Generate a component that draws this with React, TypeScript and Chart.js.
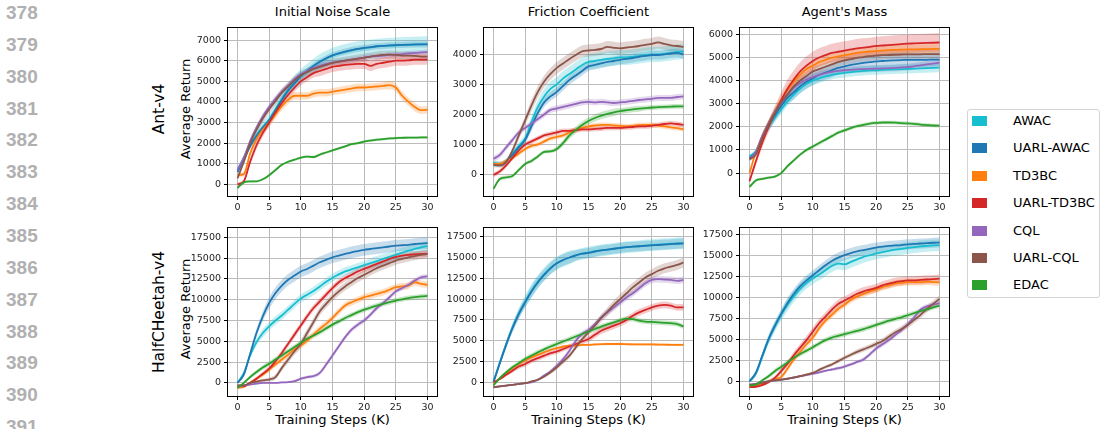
import React, { useEffect, useRef } from "react";
import { Chart, registerables } from "chart.js";
Chart.register(...registerables);

// ---------- data ----------
const steps = [0,1,2,3,4,5,6,7,8,9,10,11,12,13,14,15,16,17,18,19,20,21,22,23,24,25,26,27,28,29,30];
const seriesNames = ["AWAC","UARL-AWAC","TD3BC","UARL-TD3BC","CQL","UARL-CQL","EDAC"];
const seriesColors = ["#17becf","#1f77b4","#ff7f0e","#d62728","#9467bd","#8c564b","#2ca02c"];
const columnTitles = ["Initial Noise Scale","Friction Coefficient","Agent's Mass"];
const rowLabels = ["Ant-v4","HalfCHeetah-v4"];
const yAxisTitle = "Average Return";
const xAxisTitle = "Training Steps (K)";
const lineNumbers = [378,379,380,381,382,383,384,385,386,387,388,389,390,391];
const xTicks = [0,5,10,15,20,25,30];
const antNoiseTicks = [0,1000,2000,3000,4000,5000,6000,7000];
const antFrictionTicks = [0,1000,2000,3000,4000];
const antMassTicks = [0,1000,2000,3000,4000,5000,6000];
const cheetahTicks = [0,2500,5000,7500,10000,12500,15000,17500];

// Ant-v4 / Initial Noise Scale
const a1AWAC = [700,1300,1900,2400,2800,3150,3650,4150,4600,4950,5250,5500,5750,5950,6100,6250,6350,6430,6500,6560,6610,6650,6690,6710,6730,6750,6760,6770,6780,6790,6800];
const a1UAWAC = [600,1200,1850,2350,2750,3100,3600,4100,4550,4900,5250,5500,5750,5950,6120,6260,6360,6440,6510,6570,6620,6660,6700,6720,6740,6760,6770,6780,6790,6790,6790];
const a1TD3 = [450,500,1500,2200,2650,3000,3400,3800,4100,4300,4300,4300,4400,4450,4450,4500,4550,4600,4650,4700,4700,4720,4750,4780,4820,4700,4300,4000,3750,3600,3620];
const a1UTD3 = [0,150,1100,1900,2500,3000,3500,3950,4350,4700,5000,5200,5400,5500,5600,5700,5750,5800,5820,5850,5850,5750,5850,5900,5950,6000,6000,6020,6050,6050,6050];
const a1CQL = [700,1300,2100,2750,3300,3750,4150,4500,4800,5100,5350,5500,5650,5750,5850,5900,5950,6000,6050,6100,6150,6200,6220,6250,6280,6300,6320,6350,6380,6400,6420];
const a1UCQL = [300,1100,2000,2650,3200,3650,4050,4450,4750,5050,5300,5450,5600,5700,5800,5900,5950,6000,6050,6100,6150,6200,6250,6280,6300,6280,6250,6250,6230,6200,6200];
const a1EDAC = [-170,100,150,150,250,450,700,950,1100,1200,1300,1350,1330,1450,1550,1650,1750,1850,1950,2000,2080,2130,2170,2200,2230,2250,2260,2270,2270,2280,2280];
const a1AWACSd = [100,120,150,200,250,250,300,300,300,350,350,350,350,380,380,380,380,380,380,380,380,380,380,380,380,380,380,380,380,380,380];
const a1UAWACSd = [100,100,120,150,150,150,150,150,150,150,150,150,150,150,150,150,150,150,150,150,150,150,150,150,150,150,150,150,150,150,150];
const a1TD3Sd = [100,100,150,200,200,200,200,200,200,180,180,180,180,180,180,180,180,180,180,180,180,180,180,180,200,200,200,200,200,180,180];
const a1UTD3Sd = [100,100,150,200,200,200,200,200,200,200,200,200,220,250,250,250,250,250,250,250,250,250,250,250,250,250,250,250,250,250,250];
const a1CQLSd = [100,100,150,150,150,150,150,150,150,150,120,120,120,120,120,120,120,120,120,120,120,120,120,120,120,120,120,120,120,120,120];
const a1UCQLSd = [100,120,150,200,200,200,200,200,200,200,200,200,200,200,200,200,200,200,200,200,200,200,200,200,200,200,200,200,200,200,200];
const a1EDACSd = [50,50,50,50,50,60,60,60,60,60,60,60,60,60,60,60,60,60,60,60,60,60,60,60,60,60,60,60,60,60,60];

// Ant-v4 / Friction Coefficient
const a2AWAC = [380,350,450,700,950,1200,1750,2250,2600,2850,3000,3200,3350,3500,3650,3750,3780,3820,3850,3870,3900,3900,3920,3950,3980,4000,4000,4020,4050,4080,4100];
const a2UAWAC = [350,330,420,650,900,1150,1600,2050,2400,2600,2750,2950,3150,3300,3450,3600,3650,3700,3750,3780,3820,3850,3880,3920,3950,3980,3980,4000,4030,4050,4000];
const a2TD3 = [350,350,450,550,700,850,950,1000,1100,1200,1250,1300,1400,1480,1550,1600,1630,1650,1650,1630,1620,1600,1620,1640,1650,1650,1630,1600,1570,1540,1500];
const a2UTD3 = [-20,100,300,550,800,1000,1100,1200,1300,1350,1400,1450,1450,1480,1500,1500,1520,1530,1550,1550,1550,1570,1580,1600,1600,1620,1650,1680,1700,1680,1650];
const a2CQL = [520,650,900,1150,1400,1550,1700,1850,2000,2150,2200,2250,2300,2350,2400,2420,2400,2420,2400,2380,2400,2420,2450,2480,2500,2520,2550,2550,2550,2580,2600];
const a2UCQL = [320,300,420,800,1300,1800,2300,2750,3100,3350,3550,3700,3850,3980,4100,4130,4150,4180,4250,4220,4200,4230,4250,4280,4320,4350,4400,4350,4300,4280,4250];
const a2EDAC = [-480,-150,-100,-50,150,350,450,600,750,770,850,1050,1300,1480,1650,1780,1880,1960,2020,2070,2110,2140,2170,2190,2210,2230,2240,2250,2260,2270,2270];
const a2AWACSd = [80,80,80,100,120,150,200,220,250,250,250,250,250,250,250,250,250,250,250,250,250,250,250,250,250,250,250,250,250,250,250];
const a2UAWACSd = [80,80,80,100,100,120,150,150,150,150,150,150,150,150,150,150,150,150,150,150,150,150,150,150,150,150,150,150,150,150,150];
const a2TD3Sd = [80,80,80,80,80,80,80,80,80,80,80,80,80,80,80,80,80,80,80,80,80,80,80,80,80,80,80,80,80,80,80];
const a2UTD3Sd = [80,80,80,80,80,80,80,80,80,80,80,80,80,80,80,80,80,80,80,80,80,80,80,80,80,80,80,80,80,80,80];
const a2CQLSd = [100,100,100,100,100,100,100,100,100,100,100,100,100,100,100,100,100,100,100,100,100,100,100,100,100,100,100,100,100,100,100];
const a2UCQLSd = [80,80,80,100,150,150,200,200,200,200,200,200,200,200,200,200,200,200,200,200,200,200,200,200,200,200,200,200,200,200,200];
const a2EDACSd = [60,60,60,60,60,60,60,60,60,60,80,100,120,120,120,120,120,120,120,120,100,100,100,100,80,80,80,80,80,80,80];

// Ant-v4 / Agent's Mass
const a3AWAC = [720,950,1500,2000,2400,2750,3100,3400,3650,3850,4000,4100,4180,4250,4300,4340,4370,4400,4420,4440,4450,4470,4480,4490,4500,4510,4520,4530,4540,4550,4560];
const a3UAWAC = [650,900,1500,2050,2500,2900,3250,3500,3750,3950,4100,4250,4350,4450,4550,4620,4680,4730,4770,4800,4830,4850,4870,4880,4890,4900,4900,4900,4900,4910,4910];
const a3TD3 = [0,900,1600,2150,2650,3150,3600,3950,4250,4500,4650,4800,4900,4980,5050,5100,5150,5200,5230,5260,5280,5300,5320,5330,5340,5350,5350,5360,5360,5370,5370];
const a3UTD3 = [-350,500,1300,2000,2600,3150,3650,4050,4400,4650,4850,5000,5100,5200,5250,5300,5350,5400,5430,5460,5500,5520,5540,5560,5580,5600,5610,5620,5630,5640,5650];
const a3CQL = [600,900,1600,2150,2650,3050,3400,3700,3900,4050,4150,4250,4320,4380,4420,4450,4470,4490,4500,4510,4520,4530,4540,4550,4570,4590,4620,4660,4700,4740,4780];
const a3UCQL = [600,800,1500,2100,2600,3050,3400,3750,4000,4200,4400,4500,4600,4700,4800,4880,4930,4980,5020,5060,5080,5100,5110,5120,5130,5140,5140,5140,5150,5150,5150];
const a3EDAC = [-600,-320,-250,-200,-150,0,300,550,800,1000,1150,1300,1450,1600,1750,1850,1950,2030,2090,2140,2170,2190,2190,2180,2160,2150,2130,2100,2080,2060,2050];
const a3AWACSd = [80,100,150,200,200,200,200,200,200,200,200,200,200,200,200,200,200,200,200,200,200,200,200,200,200,200,200,200,200,200,200];
const a3UAWACSd = [80,100,150,200,250,250,250,300,300,300,300,300,300,300,300,300,300,300,300,300,300,300,300,300,300,300,300,300,300,300,300];
const a3TD3Sd = [80,100,150,150,200,200,200,200,200,200,200,200,200,200,200,200,200,200,200,200,200,200,200,200,200,200,200,200,200,200,200];
const a3UTD3Sd = [80,150,200,250,300,350,400,400,400,400,400,400,400,400,400,400,400,400,400,400,400,400,400,400,400,400,400,400,400,400,400];
const a3CQLSd = [80,100,120,150,150,150,150,150,150,150,150,150,150,150,150,150,150,150,150,150,150,150,150,150,150,150,150,150,150,150,150];
const a3UCQLSd = [80,100,150,200,200,200,200,200,200,200,200,200,200,200,200,200,200,200,200,200,200,200,200,200,200,200,200,200,200,200,200];
const a3EDACSd = [60,60,60,60,60,60,70,70,70,80,80,80,80,80,80,80,80,80,80,80,80,80,80,80,80,80,80,80,80,80,80];

// HalfCheetah-v4 / Initial Noise Scale
const h1AWAC = [0,1200,3300,4900,6000,6800,7500,8100,8800,9500,10150,10600,11050,11600,12150,12650,13050,13400,13650,13900,14150,14400,14650,14900,15150,15400,15650,15900,16100,16300,16450];
const h1UAWAC = [0,1000,3500,6000,8000,9600,10800,11700,12400,12900,13400,13700,14100,14500,14800,15100,15300,15500,15700,15850,16000,16100,16200,16300,16400,16500,16550,16600,16700,16750,16800];
const h1TD3 = [-600,-500,0,500,1000,1600,2200,2800,3400,4000,4500,5100,5800,6500,7100,7800,8600,9300,9700,10000,10300,10500,10700,10900,11200,11500,11600,11700,12100,11900,11800];
const h1UTD3 = [-300,-400,0,500,1100,1700,2600,3600,4700,5800,6900,8000,9000,9800,10600,11400,12100,12600,13000,13400,13700,14000,14300,14600,14900,15150,15300,15400,15450,15500,15550];
const h1CQL = [-500,-300,-200,-100,0,0,0,50,100,200,500,700,800,1200,2200,3300,4400,5500,6400,7000,7500,8200,9000,9600,10300,11000,11400,11800,12300,12700,12800];
const h1UCQL = [-300,-300,0,150,300,400,700,1800,2800,3800,4700,6000,7300,8600,9500,10300,11000,11600,12100,12600,13000,13400,13800,14100,14400,14700,14900,15100,15250,15400,15500];
const h1EDAC = [-600,0,700,1300,1850,2300,2800,3300,3800,4300,4800,5300,5700,6100,6550,7000,7400,7800,8150,8500,8800,9050,9300,9500,9700,9900,10050,10200,10300,10400,10450];
const h1AWACSd = [100,200,300,400,500,500,500,500,500,500,500,500,500,500,500,500,500,500,500,500,500,600,600,600,600,600,600,600,600,600,600];
const h1UAWACSd = [100,200,400,500,600,700,700,700,700,700,700,700,700,700,700,700,700,700,700,700,700,700,700,700,700,700,700,700,700,700,700];
const h1TD3Sd = [100,100,150,200,250,300,300,350,350,400,400,400,400,400,400,400,400,400,400,400,400,400,400,400,400,400,400,400,400,400,400];
const h1UTD3Sd = [100,100,150,200,250,300,300,350,350,400,400,400,400,400,400,400,400,400,400,400,400,400,400,400,400,400,400,400,400,400,400];
const h1CQLSd = [100,100,100,100,100,100,100,100,100,150,200,200,200,250,300,300,300,300,300,300,300,300,300,300,300,300,300,300,300,300,300];
const h1UCQLSd = [100,100,100,150,200,250,300,350,400,450,500,500,500,500,500,500,500,500,500,500,500,500,500,500,500,500,500,500,500,500,500];
const h1EDACSd = [100,150,200,250,300,300,300,300,300,300,300,300,300,300,300,300,300,300,300,300,300,300,300,300,300,300,300,300,300,300,300];

// HalfCheetah-v4 / Friction Coefficient
const h2AWAC = [100,2400,4600,6600,8300,9700,11000,12100,13000,13750,14300,14700,15000,15250,15450,15600,15750,15850,15950,16050,16150,16250,16300,16350,16450,16500,16550,16600,16650,16700,16700];
const h2UAWAC = [0,2300,4500,6500,8200,9600,10900,12000,12900,13700,14300,14700,15000,15250,15450,15550,15700,15850,15950,16050,16150,16250,16300,16350,16400,16450,16500,16550,16600,16650,16700];
const h2TD3 = [-200,500,1100,1700,2200,2600,3000,3300,3600,3900,4100,4300,4400,4400,4500,4500,4550,4580,4600,4600,4600,4580,4560,4550,4550,4550,4530,4520,4500,4500,4500];
const h2UTD3 = [0,400,900,1400,1900,2200,2600,2900,3200,3500,3700,4000,4300,4600,4900,5200,5700,6200,6500,6800,7100,7500,8000,8400,8700,9000,9200,9300,9200,9000,9000];
const h2CQL = [-600,-500,-400,-300,-200,-100,0,300,800,1300,2000,2800,3800,5000,5800,6300,7000,7800,8400,9000,9600,10200,10700,11300,11900,12300,12400,12350,12300,12200,12300];
const h2UCQL = [-600,-500,-400,-300,-200,-100,100,300,700,1200,1800,2500,3200,4200,5200,6000,6800,7700,8500,9300,10000,10700,11400,12000,12600,13000,13400,13700,13900,14100,14400];
const h2EDAC = [-400,500,1200,1800,2300,2800,3200,3600,3950,4300,4600,4900,5200,5500,5800,6100,6400,6700,6950,7200,7450,7650,7600,7400,7300,7250,7200,7150,7100,7000,6700];
const h2AWACSd = [200,300,400,500,600,700,800,800,800,800,800,800,800,700,700,700,700,700,700,700,700,700,700,700,700,700,700,700,700,700,700];
const h2UAWACSd = [200,300,400,500,600,600,700,700,700,700,700,700,700,600,600,600,600,600,600,600,600,600,600,600,600,600,600,600,600,600,600];
const h2TD3Sd = [100,100,150,150,150,150,150,150,150,150,150,150,150,150,150,150,150,150,150,150,150,150,150,150,150,150,150,150,150,150,150];
const h2UTD3Sd = [100,150,200,250,300,300,300,300,300,300,300,300,300,300,300,350,400,400,400,400,400,400,400,400,400,400,400,400,400,400,400];
const h2CQLSd = [100,100,100,100,100,100,100,150,200,250,300,300,300,300,300,300,300,350,400,400,400,400,400,400,400,400,400,400,400,400,400];
const h2UCQLSd = [100,100,100,100,100,100,100,150,200,250,300,300,300,300,300,350,400,450,500,550,600,600,600,600,600,600,600,600,600,600,600];
const h2EDACSd = [100,150,200,250,300,300,300,300,300,300,300,300,300,300,300,300,300,300,300,300,300,300,300,300,300,300,300,300,300,300,300];

// HalfCheetah-v4 / Agent's Mass
const h3AWAC = [0,900,2900,4900,6500,7900,9100,10100,11000,11700,12250,12700,13200,13700,14000,13900,14200,14500,14800,15000,15200,15350,15500,15650,15750,15850,15950,16050,16100,16150,16200];
const h3UAWAC = [0,1000,3000,5000,6600,8000,9300,10400,11300,12000,12600,13200,13800,14300,14700,15000,15250,15450,15600,15750,15900,16000,16100,16150,16200,16280,16330,16380,16420,16470,16500];
const h3TD3 = [-600,-500,-300,0,250,500,1500,2600,3500,4400,5200,6300,7200,7900,8600,9100,9700,10100,10400,10700,10900,11200,11400,11600,11700,11800,11800,11800,11850,11800,11750];
const h3UTD3 = [-700,-650,-450,-100,400,1200,2100,3100,4000,4900,5900,6900,7700,8500,9200,9600,10000,10400,10700,10900,11100,11400,11600,11800,11900,12000,12000,12050,12100,12150,12200];
const h3CQL = [-400,-300,-100,0,100,200,300,450,600,750,900,1050,1250,1400,1550,1750,2000,2300,2600,3200,3900,4400,4900,5500,6100,6800,7600,8500,8900,9100,9300];
const h3UCQL = [-400,-350,-200,0,100,200,300,450,600,800,1000,1350,1700,2000,2400,2800,3150,3500,3800,4100,4450,4800,5300,5800,6200,6700,7300,7900,8600,9200,9800];
const h3EDAC = [-500,-400,100,600,1200,1700,2250,2800,3250,3650,4050,4500,4900,5200,5400,5600,5800,6000,6200,6450,6700,6950,7200,7400,7600,7850,8100,8350,8550,8800,9000];
const h3AWACSd = [200,300,400,500,600,700,700,700,700,700,700,700,700,700,700,700,700,700,700,700,700,700,700,700,700,700,700,700,700,700,700];
const h3UAWACSd = [200,300,400,500,500,500,600,600,600,600,600,600,600,600,600,600,600,600,600,600,600,600,600,600,600,600,600,600,600,600,600];
const h3TD3Sd = [100,100,150,200,250,300,300,350,350,400,400,400,400,400,400,400,400,400,400,400,400,400,400,400,400,400,400,400,400,400,400];
const h3UTD3Sd = [100,100,150,200,250,300,350,400,450,500,500,500,500,500,500,500,500,500,500,500,500,500,500,500,500,500,500,500,500,500,500];
const h3CQLSd = [100,100,100,100,100,100,100,100,100,150,150,150,150,150,200,200,200,200,250,250,300,300,300,300,300,300,300,300,300,300,300];
const h3UCQLSd = [100,100,100,100,100,100,100,100,150,150,150,200,200,200,250,250,250,300,300,300,300,350,350,350,400,400,400,400,400,400,400];
const h3EDACSd = [100,150,200,250,300,300,300,300,300,300,300,300,300,300,300,300,300,300,300,300,300,300,300,300,300,300,300,300,300,300,300];

// ---------- panel definitions (built from the arrays above) ----------
const panels = [
  { means: [a1AWAC,a1UAWAC,a1TD3,a1UTD3,a1CQL,a1UCQL,a1EDAC], sds: [a1AWACSd,a1UAWACSd,a1TD3Sd,a1UTD3Sd,a1CQLSd,a1UCQLSd,a1EDACSd], yTicks: antNoiseTicks, yMin: -560, yMax: 7600 },
  { means: [a2AWAC,a2UAWAC,a2TD3,a2UTD3,a2CQL,a2UCQL,a2EDAC], sds: [a2AWACSd,a2UAWACSd,a2TD3Sd,a2UTD3Sd,a2CQLSd,a2UCQLSd,a2EDACSd], yTicks: antFrictionTicks, yMin: -720, yMax: 4890 },
  { means: [a3AWAC,a3UAWAC,a3TD3,a3UTD3,a3CQL,a3UCQL,a3EDAC], sds: [a3AWACSd,a3UAWACSd,a3TD3Sd,a3UTD3Sd,a3CQLSd,a3UCQLSd,a3EDACSd], yTicks: antMassTicks, yMin: -990, yMax: 6290 },
  { means: [h1AWAC,h1UAWAC,h1TD3,h1UTD3,h1CQL,h1UCQL,h1EDAC], sds: [h1AWACSd,h1UAWACSd,h1TD3Sd,h1UTD3Sd,h1CQLSd,h1UCQLSd,h1EDACSd], yTicks: cheetahTicks, yMin: -1580, yMax: 18660 },
  { means: [h2AWAC,h2UAWAC,h2TD3,h2UTD3,h2CQL,h2UCQL,h2EDAC], sds: [h2AWACSd,h2UAWACSd,h2TD3Sd,h2UTD3Sd,h2CQLSd,h2UCQLSd,h2EDACSd], yTicks: cheetahTicks, yMin: -1650, yMax: 18580 },
  { means: [h3AWAC,h3UAWAC,h3TD3,h3UTD3,h3CQL,h3UCQL,h3EDAC], sds: [h3AWACSd,h3UAWACSd,h3TD3Sd,h3UTD3Sd,h3CQLSd,h3UCQLSd,h3EDACSd], yTicks: cheetahTicks, yMin: -1750, yMax: 18260 },
];

// ---------- layout ----------
const FONT = "'DejaVu Sans', 'Liberation Sans', sans-serif";
const COL_LEFT = [228, 484, 740];
const ROW_TOP = [22, 222];
const PLOT_W = 209;
const PLOT_H = 174;
const Y_AXIS_W = 46;
const X_AXIS_H = 24;
const PAD = 3;

function rgba(hex: string, a: number) {
  const n = parseInt(hex.slice(1), 16);
  return `rgba(${(n >> 16) & 255},${(n >> 8) & 255},${n & 255},${a})`;
}

const framePlugin = {
  id: "frame",
  afterDraw(chart: any) {
    const { ctx, chartArea } = chart;
    const { left, top, right, bottom } = chartArea;
    ctx.save();
    ctx.strokeStyle = "#000";
    ctx.lineWidth = 1;
    ctx.strokeRect(Math.round(left) - 0.5, Math.round(top) - 0.5, Math.round(right - left) + 1, Math.round(bottom - top) + 1);
    ctx.restore();
  },
};

function Panel({ cfg, left, top }: any) {
  const ref = useRef<HTMLCanvasElement>(null);
  const width = PLOT_W + Y_AXIS_W + PAD;
  const height = PLOT_H + X_AXIS_H + PAD;
  useEffect(() => {
    const datasets: any[] = [];
    cfg.means.forEach((m: number[], i: number) => {
      const sd = cfg.sds[i];
      datasets.push({
        data: m.map((y, k) => ({ x: steps[k], y: y + (sd[k] ?? 0) })),
        borderWidth: 0, pointRadius: 0, fill: false, order: 50,
        cubicInterpolationMode: "monotone",
      });
      datasets.push({
        data: m.map((y, k) => ({ x: steps[k], y: y - (sd[k] ?? 0) })),
        borderWidth: 0, pointRadius: 0, fill: "-1", order: 50,
        backgroundColor: rgba(seriesColors[i], 0.25),
        cubicInterpolationMode: "monotone",
      });
    });
    cfg.means.forEach((m: number[], i: number) => {
      datasets.push({
        label: seriesNames[i],
        data: m.map((y, k) => ({ x: steps[k], y })),
        borderColor: seriesColors[i],
        borderWidth: 1.8,
        pointRadius: 0,
        fill: false,
        order: 7 - i,
        cubicInterpolationMode: "monotone",
      });
    });
    const tickFont = { family: FONT, size: 9.5 };
    const grid = { color: "#bcbcbc", lineWidth: 1, drawTicks: true, tickLength: 4, tickColor: "#000" };
    const chart = new Chart(ref.current as HTMLCanvasElement, {
      type: "line",
      data: { datasets },
      options: {
        animation: false,
        responsive: false,
        maintainAspectRatio: false,
        events: [],
        layout: { padding: { top: PAD, right: PAD, left: 0, bottom: 0 } },
        plugins: {
          legend: { display: false },
          tooltip: { enabled: false },
          filler: { drawTime: "beforeDatasetsDraw" },
        },
        scales: {
          x: {
            type: "linear", min: -1.5, max: 31.5,
            afterBuildTicks: (ax: any) => { ax.ticks = xTicks.map((v) => ({ value: v })); },
            afterFit: (s: any) => { s.height = X_AXIS_H; },
            grid, border: { display: false },
            ticks: { autoSkip: false, maxRotation: 0, padding: 2, font: tickFont, color: "#222", callback: (v: any) => String(v) },
          },
          y: {
            type: "linear", min: cfg.yMin, max: cfg.yMax,
            afterBuildTicks: (ax: any) => { ax.ticks = cfg.yTicks.map((v: number) => ({ value: v })); },
            afterFit: (s: any) => { s.width = Y_AXIS_W; },
            grid, border: { display: false },
            ticks: { autoSkip: false, padding: 3, font: tickFont, color: "#222", callback: (v: any) => String(v) },
          },
        },
      } as any,
      plugins: [framePlugin],
    });
    return () => chart.destroy();
  }, []);
  return (
    <canvas
      ref={ref}
      width={width}
      height={height}
      style={{ position: "absolute", left: left - Y_AXIS_W, top: top - PAD, width, height }}
    />
  );
}

function Rotated({ text, cx, cy, size }: any) {
  return (
    <div style={{
      position: "absolute", left: cx, top: cy, transform: "translate(-50%,-50%) rotate(-90deg)",
      whiteSpace: "nowrap", fontFamily: FONT, fontSize: size, lineHeight: `${size + 2}px`, color: "#000",
    }}>{text}</div>
  );
}

export default function App() {
  return (
    <div style={{ position: "absolute", left: 0, top: 0, width: 1100, height: 429, background: "#fff", overflow: "hidden" }}>
      {lineNumbers.map((n, i) => (
        <div key={n} style={{
          position: "absolute", left: 6, top: 13 + i * 31.85 - 11, height: 22, lineHeight: "22px",
          fontFamily: "'Liberation Sans', Arial, sans-serif", fontWeight: "bold", fontSize: 19, color: "#b0b0b0",
        }}>{n}</div>
      ))}
      {rowLabels.map((t, r) => (
        <React.Fragment key={t}>
          <Rotated text={t} cx={160} cy={ROW_TOP[r] + PLOT_H / 2 + (r === 0 ? 0 : 3)} size={15.5} />
          <Rotated text={yAxisTitle} cx={185} cy={ROW_TOP[r] + PLOT_H / 2} size={13} />
        </React.Fragment>
      ))}
      {columnTitles.map((t, c) => (
        <div key={t} style={{
          position: "absolute", left: COL_LEFT[c], top: 4, width: PLOT_W, textAlign: "center",
          fontFamily: FONT, fontSize: 13, lineHeight: "16px", whiteSpace: "nowrap",
        }}>{t}</div>
      ))}
      {columnTitles.map((t, c) => (
        <div key={"x" + t} style={{
          position: "absolute", left: COL_LEFT[c], top: 412, width: PLOT_W, textAlign: "center",
          fontFamily: FONT, fontSize: 13, lineHeight: "16px", whiteSpace: "nowrap",
        }}>{xAxisTitle}</div>
      ))}
      {panels.map((p, idx) => (
        <Panel key={idx} cfg={p} left={COL_LEFT[idx % 3]} top={ROW_TOP[Math.floor(idx / 3)]} />
      ))}
      <div style={{
        position: "absolute", left: 967, top: 109, width: 131, height: 187,
        border: "1px solid #d4d4d4", borderRadius: 3, background: "#fff",
      }}>
        {seriesNames.map((n, i) => (
          <div key={n} style={{ position: "absolute", left: 0, top: 11 + i * 27.4 - 8, height: 16, width: 131 }}>
            <div style={{ position: "absolute", left: 4, top: 3, width: 15, height: 10, background: seriesColors[i] }} />
            <div style={{ position: "absolute", left: 45, top: 0, lineHeight: "16px", fontFamily: FONT, fontSize: 13, whiteSpace: "nowrap" }}>{n}</div>
          </div>
        ))}
      </div>
    </div>
  );
}
